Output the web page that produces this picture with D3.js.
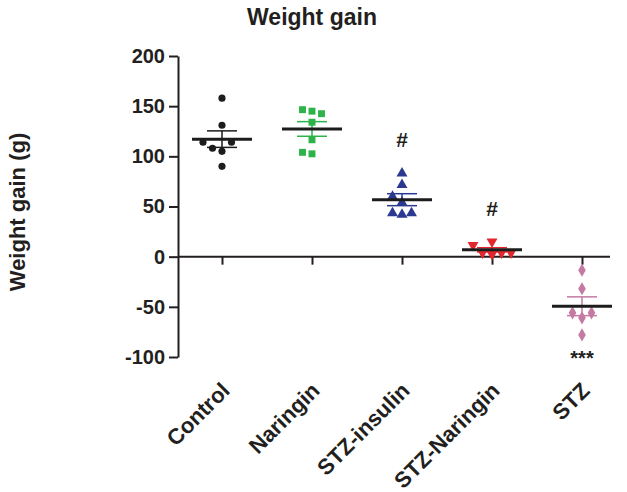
<!DOCTYPE html>
<html><head><meta charset="utf-8">
<script src="https://cdn.jsdelivr.net/npm/d3@7"></script>
<style>body{margin:0;background:#fff}svg{display:block}text{font-family:"Liberation Sans",Arial,sans-serif;font-weight:bold;fill:#231f20}</style>
</head><body>
<script>
const categories = ["Control","Naringin","STZ-insulin","STZ-Naringin","STZ"];
const control = [158,131,105,90,108,114,114];
const naringin = [145,146.5,142.5,134,116.5,102.5,104];
const stzInsulin = [83,71.5,54,60,42,43.5,43.5];
const stzNaringin = [2.5,4,4,15,11.5,4];
const stz = [-13.5,-32,-61,-56,-56,-78];
const colors = ["#1c1c1c","#2db34a","#2b3990","#e1262d","#c47aa2"];
const shapes = [d3.symbolCircle,d3.symbolSquare,d3.symbolTriangle,"tri-down",d3.symbolDiamond];
const annotations = ["","","#","#","***"];
const yTicks = [-100,-50,0,50,100,150,200];
const series = [control,naringin,stzInsulin,stzNaringin,stz];

const W=627,H=492;
const svg=d3.select("body").append("svg").attr("width",W).attr("height",H);
const y=d3.scaleLinear().domain([-100,200]).range([357,56]);
const x=d3.scalePoint().domain(categories).range([222,582]);
const axisX=178;

// title
svg.append("text").attr("x",312).attr("y",25).attr("text-anchor","middle").style("font-size","23px").text("Weight gain");
// y label
svg.append("text").attr("transform","translate(25,212) rotate(-90)").attr("text-anchor","middle").style("font-size","22px").text("Weight gain (g)");

// y axis
const ya=svg.append("g").attr("transform",`translate(${axisX},0)`).call(d3.axisLeft(y).tickValues(yTicks).tickFormat(v=>String(v)).tickSize(9).tickPadding(4).tickSizeOuter(0));
ya.select(".domain").attr("stroke","#231f20").attr("stroke-width",2);
ya.selectAll(".tick line").attr("stroke","#231f20").attr("stroke-width",2);
ya.selectAll(".tick text").style("font-size","20px").style("font-family","'Liberation Sans',Arial,sans-serif").style("font-weight","bold").attr("fill","#231f20");

// zero line with category ticks
const xa=svg.append("g").attr("transform",`translate(0,${y(0)})`).call(d3.axisBottom(x).tickSize(8).tickSizeOuter(0).tickFormat(""));
xa.select(".domain").attr("d",`M${axisX},0H610`).attr("stroke","#231f20").attr("stroke-width",2);
xa.selectAll(".tick line").attr("stroke","#231f20").attr("stroke-width",2);

// category labels
svg.selectAll(".cat").data(categories).enter().append("text")
  .attr("transform",d=>`translate(${x(d)+9},${392}) rotate(-45)`)
  .attr("text-anchor","end").style("font-size","22px").text(d=>d);

// dodge
const d=9.5, minD=9.5;
function dodge(vals){
  const placed=[];
  vals.forEach(v=>{
    const py=y(v);
    for(const k of [0,-1,1,-2,2,-3,3]){
      const px=k*d;
      if(placed.every(p=>Math.hypot(p.px-px,p.py-py)>=minD)){placed.push({v,px,py});break;}
    }
  });
  return placed;
}

series.forEach((vals,i)=>{
  const cx=x(categories[i]);
  const g=svg.append("g");
  const pts=dodge(vals);
  const sizes=[40,48,52,52,50];
  g.selectAll("path.pt").data(pts).enter().append("path")
    .attr("transform",p=>`translate(${cx+p.px},${p.py})`)
    .attr("d",p=>{
      if(shapes[i]==="tri-down"){const s=sizes[i];const a=Math.sqrt(s*4/Math.sqrt(3));const h=a*Math.sqrt(3)/2;return `M0,${h*2/3}L${-a/2},${-h/3}L${a/2},${-h/3}Z`;}
      return d3.symbol(shapes[i],sizes[i])();
    })
    .attr("fill",colors[i]);
  const mean=d3.mean(vals);
  const sem=d3.deviation(vals)/Math.sqrt(vals.length);
  g.append("line").attr("x1",cx).attr("x2",cx).attr("y1",y(mean+sem)).attr("y2",y(mean-sem)).attr("stroke",colors[i]).attr("stroke-width",1.5);
  [mean+sem,mean-sem].forEach(v=>g.append("line").attr("x1",cx-15).attr("x2",cx+15).attr("y1",y(v)).attr("y2",y(v)).attr("stroke",colors[i]).attr("stroke-width",1.5));
  g.append("line").attr("x1",cx-30).attr("x2",cx+30).attr("y1",y(mean)).attr("y2",y(mean)).attr("stroke","#1c1c1c").attr("stroke-width",3);
  if(annotations[i]){
    const ay = mean>0 ? y(d3.max(vals))-26 : y(d3.min(vals))+30;
    svg.append("text").attr("x",cx).attr("y",ay).attr("text-anchor","middle").style("font-size",annotations[i]==="#"?"21px":"20px").text(annotations[i]);
  }
});
</script>
</body></html>
